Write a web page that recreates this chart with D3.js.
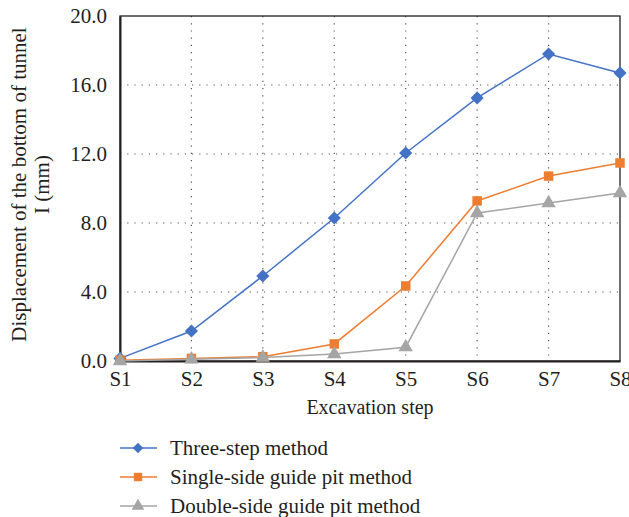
<!DOCTYPE html>
<html>
<head>
<meta charset="utf-8">
<script src="https://d3js.org/d3.v7.min.js"></script>
<style>
  body { margin: 0; padding: 0; background: #fff; }
  text { font-family: "Liberation Serif", "DejaVu Serif", serif; fill: #231f20; }
</style>
</head>
<body>
<div id="chart"></div>
<script>
// chart data
const steps = ["S1", "S2", "S3", "S4", "S5", "S6", "S7", "S8"];
const threeStep = [0.15, 1.74, 4.93, 8.29, 12.06, 15.25, 17.8, 16.7];
const singleSide = [0.05, 0.15, 0.25, 0.99, 4.35, 9.28, 10.72, 11.48];
const doubleSide = [0.0, 0.1, 0.2, 0.4, 0.8, 8.58, 9.16, 9.74];
const yTicks = [0, 4, 8, 12, 16, 20];

const series = [
    { name: "Three-step method", values: threeStep, color: "#4472c4", shape: d3.symbolDiamond2 },
    { name: "Single-side guide pit method", values: singleSide, color: "#ed7d31", shape: d3.symbolSquare },
    { name: "Double-side guide pit method", values: doubleSide, color: "#a5a5a5", shape: d3.symbolTriangle }
];

const width = 629, height = 517;
const margin = { top: 16, right: 9, bottom: 156, left: 120 };

const svg = d3.select("#chart").append("svg")
    .attr("width", width)
    .attr("height", height);

const x = d3.scalePoint()
    .domain(steps)
    .range([margin.left, width - margin.right]);

const y = d3.scaleLinear()
    .domain([0, 20])
    .range([height - margin.bottom, margin.top]);

// dotted grid
svg.append("g")
    .selectAll("line")
    .data(yTicks.slice(1, -1))
    .join("line")
    .attr("x1", margin.left).attr("x2", width - margin.right)
    .attr("y1", d => y(d)).attr("y2", d => y(d))
    .attr("stroke", "#555").attr("stroke-width", 1.2)
    .attr("stroke-dasharray", "1.2,6");

svg.append("g")
    .selectAll("line")
    .data(steps.slice(1, -1))
    .join("line")
    .attr("x1", d => x(d)).attr("x2", d => x(d))
    .attr("y1", margin.top).attr("y2", height - margin.bottom)
    .attr("stroke", "#555").attr("stroke-width", 1.2)
    .attr("stroke-dasharray", "1.2,6");

// frame
svg.append("rect")
    .attr("x", margin.left).attr("y", margin.top)
    .attr("width", width - margin.left - margin.right)
    .attr("height", height - margin.top - margin.bottom)
    .attr("fill", "none").attr("stroke", "#231f20").attr("stroke-width", 1.3);

// axes
const yAxis = svg.append("g")
    .attr("transform", `translate(${margin.left},0)`)
    .call(d3.axisLeft(y).tickValues(yTicks).tickFormat(d3.format(".1f")).tickSize(0).tickPadding(13));
yAxis.select(".domain").attr("stroke", "#231f20").attr("stroke-width", 2);
yAxis.selectAll("text")
    .style("font-family", "'Liberation Serif', serif")
    .style("font-size", "21px");

const xAxis = svg.append("g")
    .attr("transform", `translate(0,${height - margin.bottom})`)
    .call(d3.axisBottom(x).tickSize(0).tickPadding(10));
xAxis.select(".domain").attr("stroke", "#231f20").attr("stroke-width", 2);
xAxis.selectAll("text")
    .style("font-family", "'Liberation Serif', serif")
    .style("font-size", "21px");
yAxis.attr("font-family", null).attr("font-size", null);
xAxis.attr("font-family", null).attr("font-size", null);

// axis titles
svg.append("text")
    .attr("x", 370).attr("y", 407)
    .attr("dy", "0.35em")
    .attr("text-anchor", "middle")
    .style("font-size", "20px")
    .text("Excavation step");

const yTitle = svg.append("text")
    .attr("transform", `translate(26,${(margin.top + height - margin.bottom) / 2 - 4}) rotate(-90)`)
    .attr("text-anchor", "middle")
    .style("font-size", "21px");
yTitle.append("tspan").attr("x", 0).attr("dy", 0).text("Displacement of the bottom of tunnel");
yTitle.append("tspan").attr("x", 0).attr("dy", 23).text("I (mm)");

// lines and markers
const line = d3.line()
    .x((d, i) => x(steps[i]))
    .y(d => y(d));

series.forEach(s => {
    svg.append("path")
        .datum(s.values)
        .attr("fill", "none")
        .attr("stroke", s.color)
        .attr("stroke-width", 1.5)
        .attr("d", line);

    svg.append("g")
        .selectAll("path")
        .data(s.values)
        .join("path")
        .attr("transform", (d, i) => `translate(${x(steps[i])},${y(d)})`)
        .attr("d", d3.symbol().type(s.shape).size(s.shape === d3.symbolDiamond2 ? 110 : 90))
        .attr("fill", s.color);
});

// legend
const legend = svg.append("g")
    .selectAll("g")
    .data(series)
    .join("g")
    .attr("transform", (d, i) => `translate(120,${448 + i * 29})`);

legend.append("line")
    .attr("x1", 0).attr("x2", 37)
    .attr("stroke", d => d.color).attr("stroke-width", 1.5);

legend.append("path")
    .attr("transform", "translate(18,0)")
    .attr("d", d => d3.symbol().type(d.shape).size(70)())
    .attr("fill", d => d.color);

legend.append("text")
    .attr("x", 50).attr("dy", "0.35em")
    .style("font-size", "21px")
    .text(d => d.name);
</script>
</body>
</html>
